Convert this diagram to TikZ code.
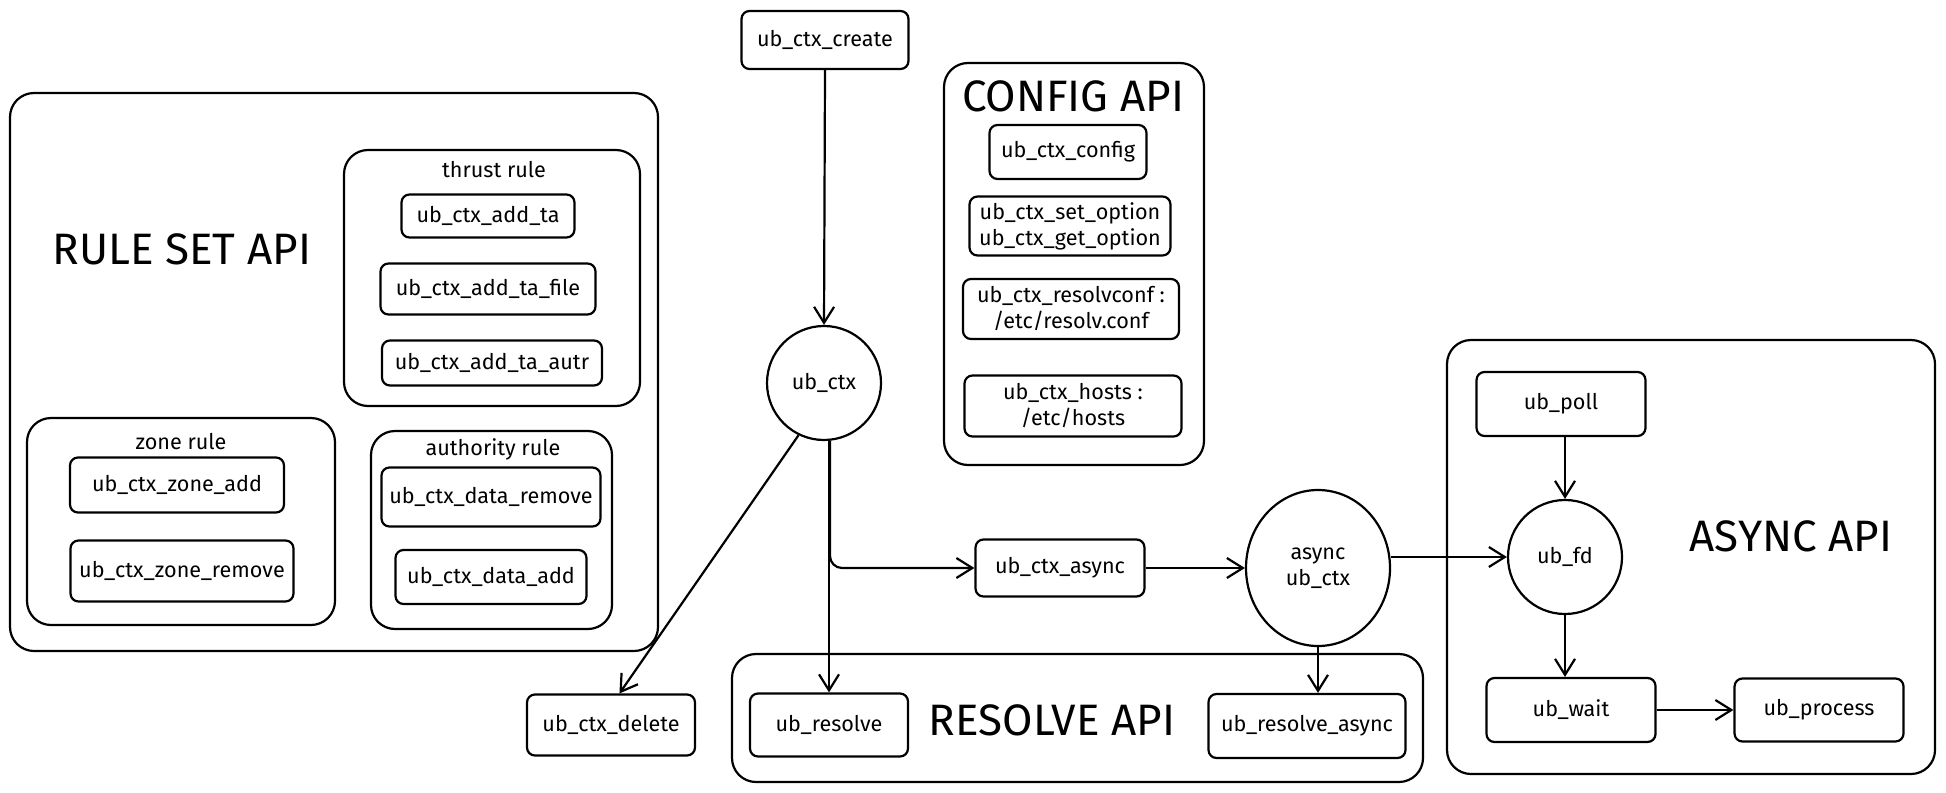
\documentclass[tikz,border=0pt]{standalone}
\usepackage{fontspec}
\setmainfont{Fira Sans}
\usetikzlibrary{arrows.meta, shapes.geometric}

\begin{document}
\begin{tikzpicture}[x=0.5pt, y=-0.5pt,
        fn/.style={draw, rounded corners=4pt, line width=1.1pt, align=center, inner sep=0pt, font=\fontsize{10.8}{13}\selectfont},
        sz/.style 2 args={minimum width=#1, minimum height=#2},
        group/.style={draw, rounded corners=12pt, line width=1.1pt, inner sep=0pt},
        handle/.style={draw, circle, line width=1.1pt, inner sep=0pt, minimum size=57pt, align=center, font=\fontsize{10.8}{13}\selectfont},
        title/.style={font=\fontsize{22}{26}\selectfont},
        caption/.style={font=\fontsize{10.8}{13}\selectfont},
        flow/.style={-{Straight Barb[length=8pt, width=10pt]}, line width=1.1pt}
    ]
        \useasboundingbox (0,0) rectangle (1946,792);

        % groups
        \node[group, sz={324pt}{279pt}] (ruleset) at (334,372) {};
        \node[group, sz={148pt}{128pt}] (thrust) at (492,278) {};
        \node[group, sz={154pt}{103.5pt}] (zone) at (181,521.5) {};
        \node[group, sz={120.5pt}{99pt}] (authority) at (491.5,530) {};
        \node[group, sz={130pt}{201pt}] (config) at (1074,264) {};
        \node[group, sz={345.5pt}{64pt}] (resolveapi) at (1077.5,718) {};
        \node[group, sz={244pt}{217pt}] (asyncapi) at (1691,557) {};

        \node[title] (rulesettitle) at (182,249) {RULE SET API};
        \node[caption] (thrusttitle) at (494,170) {thrust rule};
        \node[caption] (zonetitle) at (181,442) {zone rule};
        \node[caption] (authoritytitle) at (493,449) {authority rule};
        \node[title] (configtitle) at (1073,96) {CONFIG API};
        \node[title] (resolvetitle) at (1052,720) {RESOLVE API};
        \node[title] (asynctitle) at (1791,536) {ASYNC API};

        % rule set api
        \node[fn, sz={86.5pt}{21.5pt}] (addta) at (488,216) {ub\_ctx\_add\_ta};
        \node[fn, sz={107.5pt}{25.5pt}] (addtafile) at (488,289) {ub\_ctx\_add\_ta\_file};
        \node[fn, sz={110pt}{22.5pt}] (addtaautr) at (492,363) {ub\_ctx\_add\_ta\_autr};
        \node[fn, sz={107pt}{27.5pt}] (zoneadd) at (177,485) {ub\_ctx\_zone\_add};
        \node[fn, sz={111.5pt}{30.5pt}] (zoneremove) at (182,571) {ub\_ctx\_zone\_remove};
        \node[fn, sz={109.5pt}{29.5pt}] (dataremove) at (491,497) {ub\_ctx\_data\_remove};
        \node[fn, sz={95.5pt}{27pt}] (dataadd) at (491,577) {ub\_ctx\_data\_add};

        % context
        \node[fn, sz={83.5pt}{29pt}] (create) at (825,40) {ub\_ctx\_create};
        \node[handle] (ctx) at (824,383) {ub\_ctx};
        \node[fn, sz={84pt}{30.5pt}] (delete) at (611,725) {ub\_ctx\_delete};

        % config api
        \node[fn, sz={78.5pt}{27pt}] (cfg) at (1068,152) {ub\_ctx\_config};
        \node[fn, sz={100.5pt}{29.5pt}] (option) at (1070,226) {ub\_ctx\_set\_option\\ub\_ctx\_get\_option};
        \node[fn, sz={108pt}{30pt}] (resolvconf) at (1071,309) {ub\_ctx\_resolvconf :\\/etc/resolv.conf};
        \node[fn, sz={108.5pt}{30.5pt}] (hosts) at (1073,406) {ub\_ctx\_hosts :\\/etc/hosts};

        % resolve api
        \node[fn, sz={84.5pt}{28.5pt}] (ctxasync) at (1060,568) {ub\_ctx\_async};
        \node[handle, ellipse, minimum width=72pt, minimum height=78pt] (actx) at (1318,568) {async\\ub\_ctx};
        \node[fn, sz={79pt}{31.5pt}] (resolve) at (829,725) {ub\_resolve};
        \node[fn, sz={98.5pt}{32pt}] (resolveasync) at (1307,726) {ub\_resolve\_async};

        % async api
        \node[fn, sz={84.5pt}{32pt}] (poll) at (1561,404) {ub\_poll};
        \node[handle] (fd) at (1565,557) {ub\_fd};
        \node[fn, sz={84.5pt}{32pt}] (wait) at (1571,710) {ub\_wait};
        \node[fn, sz={84.5pt}{31.5pt}] (process) at (1819,710) {ub\_process};

        \draw[flow] (create.south) -- (ctx.north);
        \draw[flow] (ctx.244) -- (delete.75);
        \draw[flow] (resolve.north |- ctx.south) -- (resolve.north);
        \draw[flow, rounded corners=6pt] ([xshift=3pt]ctx.south) |- (ctxasync.west);
        \draw[flow] (ctxasync.east) -- (actx.west);
        \draw[flow] (actx.south) -- (actx.south |- resolveasync.north);
        \draw[flow] (actx.east |- fd.west) -- (fd.west);
        \draw[flow] (fd.north |- poll.south) -- (fd.north);
        \draw[flow] (fd.south) -- (fd.south |- wait.north);
        \draw[flow] (wait.east) -- (process.west);
    \end{tikzpicture}
\end{document}
